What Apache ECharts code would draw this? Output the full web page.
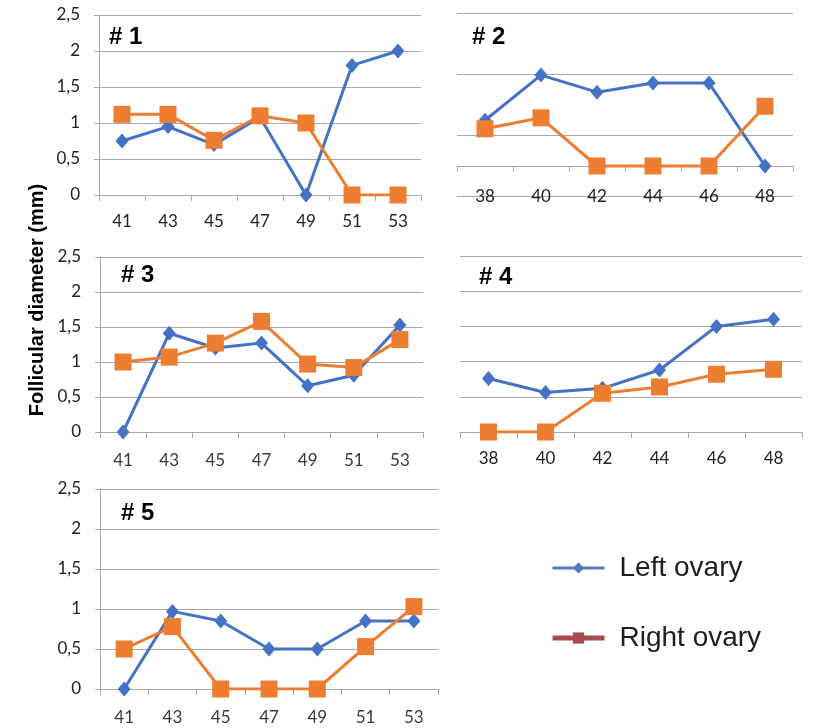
<!DOCTYPE html>
<html>
<head>
<meta charset="utf-8">
<script src="https://cdn.jsdelivr.net/npm/echarts@6/dist/echarts.min.js"></script>
<style>
  html, body { margin: 0; padding: 0; background: #fff; }
  #chart { width: 813px; height: 728px; }
</style>
</head>
<body>
<div id="chart"></div>
<script>
// weeks on the x axes
var weeksA = ['41', '43', '45', '47', '49', '51', '53'];
var weeksB = ['38', '40', '42', '44', '46', '48'];

// follicular diameter (mm), one pair per animal
var left1 = [0.75, 0.95, 0.7, 1.08, 0, 1.8, 2.0];
var right1 = [1.12, 1.12, 0.76, 1.1, 1.0, 0, 0];
var left2 = [0.75, 1.49, 1.21, 1.36, 1.36, 0];
var right2 = [0.61, 0.79, 0, 0, 0, 0.98];
var left3 = [0, 1.41, 1.2, 1.27, 0.66, 0.81, 1.53];
var right3 = [1.0, 1.07, 1.27, 1.58, 0.97, 0.92, 1.32];
var left4 = [0.76, 0.56, 0.62, 0.88, 1.5, 1.6];
var right4 = [0, 0, 0.55, 0.64, 0.82, 0.89];
var left5 = [0, 0.97, 0.85, 0.5, 0.5, 0.85, 0.85];
var right5 = [0.5, 0.78, 0, 0, 0, 0.53, 1.03];

var panelNames = ['# 1', '# 2', '# 3', '# 4', '# 5'];

var BLUE = '#4472c4', ORANGE = '#ed7d31', GRID = '#a9a9a9';
var FONT = 'Liberation Sans';

var myChart = echarts.init(document.getElementById('chart'));

var grids = [
    {left: 99, top: 15, width: 322, height: 180},
    {left: 457, top: 13.5, width: 336, height: 183},
    {left: 100, top: 257, width: 323, height: 175},
    {left: 460, top: 256, width: 342, height: 176},
    {left: 100, top: 489, width: 338, height: 200}
];
var cats = [weeksA, weeksB, weeksA, weeksB, weeksA];
var lefts = [left1, left2, left3, left4, left5];
var rights = [right1, right2, right3, right4, right5];
// panel 2 labels sit on the lowest gridline, just under the zero line
var labelMargin = [18, -8, 20, 18, 20];
var labelColor = ['#222', '#222', '#3a3a3a', '#222', '#3a3a3a'];
var titlePos = [[104, 20], [467, 20], [116, 258], [474, 260], [116, 496]];

var xAxes = [], yAxes = [], series = [], titles = [];
for (var i = 0; i < 5; i++) {
    var hasY = (i % 2 === 0);
    xAxes.push({
        type: 'category', gridIndex: i, data: cats[i], boundaryGap: true,
        axisLine: {onZero: true, lineStyle: {color: GRID, width: 1}},
        axisTick: {show: true, length: 6, lineStyle: {color: GRID}},
        axisLabel: {fontSize: 17, fontFamily: 'Lato', color: labelColor[i], margin: labelMargin[i]},
        splitLine: {show: false}
    });
    yAxes.push({
        type: 'value', gridIndex: i,
        min: i === 1 ? -0.5 : 0, max: 2.5, interval: i === 1 ? 1 : 0.5,
        axisLine: {show: hasY, lineStyle: {color: GRID}},
        axisTick: {show: hasY, length: 5, lineStyle: {color: GRID}},
        axisLabel: {
            show: hasY, fontSize: 17, fontFamily: 'Lato', color: '#222', margin: 19,
            formatter: function (v) { return String(v).replace('.', ','); }
        },
        splitLine: {show: true, lineStyle: {color: GRID, width: 1}}
    });
    series.push({
        name: 'Left ovary', type: 'line', xAxisIndex: i, yAxisIndex: i,
        data: lefts[i], symbol: 'diamond', symbolSize: [13, 15],
        itemStyle: {color: BLUE}, lineStyle: {color: BLUE, width: 3}
    });
    series.push({
        name: 'Right ovary', type: 'line', xAxisIndex: i, yAxisIndex: i,
        data: rights[i], symbol: 'rect', symbolSize: 17,
        itemStyle: {color: ORANGE}, lineStyle: {color: ORANGE, width: 3}
    });
    titles.push({
        text: panelNames[i], left: titlePos[i][0], top: titlePos[i][1],
        textStyle: {fontSize: 24, fontWeight: 'bold', fontFamily: FONT, color: '#000'}
    });
}

var option = {
    animation: false,
    backgroundColor: '#fff',
    title: titles,
    grid: grids,
    xAxis: xAxes,
    yAxis: yAxes,
    legend: {
        orient: 'vertical', left: 545, top: 549, itemGap: 42,
        itemWidth: 52, itemHeight: 14,
        textStyle: {fontSize: 28, fontFamily: FONT, color: '#1e1e1e', padding: [0, 0, 0, 10]},
        data: [
            {name: 'Left ovary',
             itemStyle: {color: '#5a78bd'}, lineStyle: {color: '#5a78bd', width: 3}},
            {name: 'Right ovary',
             itemStyle: {color: '#a94a50'}, lineStyle: {color: '#a94a50', width: 5}}
        ]
    },
    graphic: [{
        type: 'text', x: 37, y: 300, rotation: Math.PI / 2,
        style: {
            text: 'Follicular diameter (mm)', fill: '#000',
            font: 'bold 20px "Liberation Sans"', align: 'center', verticalAlign: 'middle'
        }
    }],
    series: series
};
myChart.setOption(option);
</script>
</body>
</html>
